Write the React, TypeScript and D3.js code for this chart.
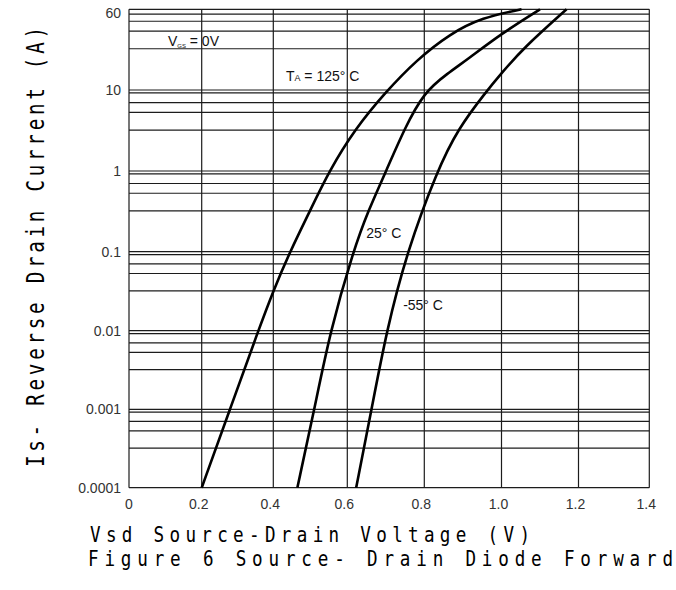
import React from 'react';
import * as d3 from 'd3';

// ---- axis ticks ----
const xTicks = [0, 0.2, 0.4, 0.6, 0.8, 1.0, 1.2, 1.4];
const xTickLabels = ['0', '0.2', '0.4', '0.6', '0.8', '1.0', '1.2', '1.4'];
const yTicks = [0.0001, 0.001, 0.01, 0.1, 1, 10, 60];
const yTickLabels = ['0.0001', '0.001', '0.01', '0.1', '1', '10', '60'];
const minorMultipliers = [0.92, 0.7, 0.53, 0.32];
const minorDecades = [0.001, 0.01, 0.1, 1, 10];
const topMinor = [54, 46, 37, 25];

// ---- series (Vsd in V, Is in A) ----
const v125 = [0.2, 0.279, 0.358, 0.4, 0.445, 0.499, 0.551, 0.62, 0.7, 0.78, 0.867, 0.95, 1.052];
const i125 = [0.0001, 0.001, 0.01, 0.032, 0.1, 0.32, 1, 3.3, 9.5, 19.5, 35, 50, 60];

const v25 = [0.465, 0.511, 0.554, 0.615, 0.654, 0.701, 0.748, 0.8, 0.861, 0.91, 1.0, 1.1];
const i25 = [0.0001, 0.001, 0.01, 0.1, 0.32, 1, 3.3, 9.5, 14.5, 19.5, 35, 60];

const vm55 = [0.623, 0.663, 0.702, 0.755, 0.833, 0.887, 0.96, 1.0, 1.056, 1.169];
const im55 = [0.0001, 0.001, 0.01, 0.1, 1, 3.3, 9.5, 14.5, 25.2, 60];

const series = [
  { name: '125', v: v125, i: i125 },
  { name: '25', v: v25, i: i25 },
  { name: '-55', v: vm55, i: im55 },
];

export default function App() {
  const W = 676, H = 590;
  const x = d3.scaleLinear().domain(xTicks).range([129, 201.7, 273.3, 347.3, 424.3, 501.5, 578.5, 649.3]);
  const y = d3.scaleLog().domain(yTicks).range([487.7, 409.3, 330.7, 251.7, 171, 90, 9.3]);

  const hGrid: number[] = [...yTicks];
  minorDecades.forEach((d) => minorMultipliers.forEach((m) => hGrid.push(d * m)));
  topMinor.forEach((t) => hGrid.push(t));

  const line = d3
    .line<[number, number]>()
    .x((d) => x(d[0]))
    .y((d) => y(d[1]))
    .curve(d3.curveBasis);

  const x0 = x(0), x1 = x(1.4), yb = y(0.0001), yt = y(60);
  const gridColor = '#1c1c1c';
  const tickFont = "'Liberation Sans Narrow', 'Liberation Sans', Arial, sans-serif";
  const monoFont = "'DejaVu Sans Mono', monospace";
  const sx = 0.8;

  return (
    <svg width={W} height={H} style={{ position: 'absolute', left: 0, top: 0, background: '#fff' }}>
      <rect x={0} y={0} width={W} height={H} fill="#fff" />
      {/* horizontal grid */}
      {hGrid.map((v, k) => (
        <line key={'h' + k} x1={x0} x2={x1} y1={y(v)} y2={y(v)} stroke={gridColor} strokeWidth={1.2} />
      ))}
      {/* vertical grid */}
      {xTicks.map((v, k) => (
        <line key={'v' + k} x1={x(v)} x2={x(v)} y1={yt} y2={yb} stroke={gridColor} strokeWidth={1.2} />
      ))}
      {/* curves */}
      {series.map((s) => (
        <path
          key={s.name}
          d={line(s.v.map((vv, k) => [vv, s.i[k]] as [number, number])) || ''}
          fill="none"
          stroke="#000"
          strokeWidth={2.6}
        />
      ))}
      {/* y tick labels */}
      {yTicks.map((v, k) => (
        <text key={'yt' + k} x={121} y={Math.max(y(v) + 5, 18)} textAnchor="end" fontFamily={tickFont} fontSize={14} fill="#333">
          {yTickLabels[k]}
        </text>
      ))}
      {/* x tick labels */}
      {xTicks.map((v, k) => (
        <text key={'xt' + k} x={x(v) - (k === 0 ? 0 : 3)} y={509} textAnchor="middle" fontFamily={tickFont} fontSize={14} fill="#333">
          {xTickLabels[k]}
        </text>
      ))}
      {/* annotations */}
      <text x={x(0.107)} y={y(26.5)} fontFamily={tickFont} fontSize={14} fill="#111">
        V<tspan fontSize={6} dy={2}>GS</tspan>
        <tspan fontSize={14} dy={-2}> = 0V</tspan>
      </text>
      <text x={x(0.434)} y={y(12.2)} fontFamily={tickFont} fontSize={14} fill="#111">
        T<tspan fontSize={9}>A</tspan>
        <tspan fontSize={14}> = 125° C</tspan>
      </text>
      <text x={x(0.649)} y={y(0.148)} fontFamily={tickFont} fontSize={14} fill="#111">
        25° C
      </text>
      <text x={x(0.745)} y={y(0.0183)} fontFamily={tickFont} fontSize={14} fill="#111">
        -55° C
      </text>
      {/* axis titles */}
      <g transform="translate(44,247) rotate(-90) scale(0.8,1)">
        <text
          x={0}
          y={0}
          textAnchor="middle"
          fontFamily={monoFont}
          fontSize={24}
          textLength={440 / sx}
          lengthAdjust="spacing"
          fill="#000"
        >
          Is- Reverse Drain Current (A)
        </text>
      </g>
      <g transform={`translate(90,542) scale(${sx},1)`}>
        <text x={0} y={0} fontFamily={monoFont} fontSize={22} textLength={440 / sx} lengthAdjust="spacing" fill="#000">
          Vsd Source-Drain Voltage (V)
        </text>
      </g>
      <g transform={`translate(88,566) scale(${sx},1)`}>
        <text x={0} y={0} fontFamily={monoFont} fontSize={22} textLength={585 / sx} lengthAdjust="spacing" fill="#000">
          Figure 6 Source- Drain Diode Forward
        </text>
      </g>
    </svg>
  );
}
